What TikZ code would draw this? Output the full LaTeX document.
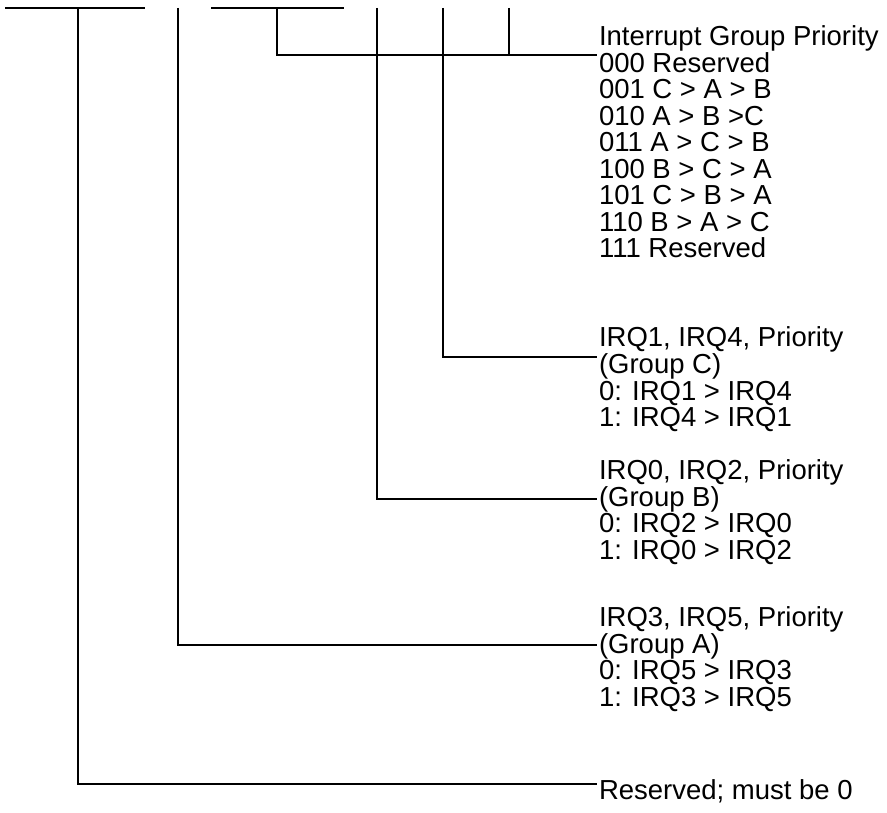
\documentclass[tikz,border=0pt]{standalone}
\usepackage{fontspec}
\setmainfont{Liberation Sans}
\begin{document}
\begin{tikzpicture}[x=1pt,y=-1pt,
  lbl/.style={anchor=base west,inner sep=0pt,outer sep=0pt,font=\fontsize{27.5}{27}\selectfont},
  conn/.style={line width=1.3pt},
  heavy/.style={line width=2.4pt}]
\useasboundingbox (0,0) rectangle (887,813);
% top fragments
\coordinate (h1a) at (5,8);   \coordinate (h1b) at (145,8);
\coordinate (h2a) at (211,8); \coordinate (h2b) at (344,8);
\draw[conn] (h1a) -- (h1b);
\draw[conn] (h2a) -- (h2b);
% tops of the field lines
\coordinate (sR) at (78,8);
\coordinate (sA) at (178,8);
\coordinate (sG) at (277,8);
\coordinate (sB) at (377,8);
\coordinate (sC) at (443,8);
\coordinate (sH) at (509,8);
% ends
\coordinate (eG) at (597,55);
\coordinate (jH) at (509,55);
\coordinate (eC) at (597,357);
\coordinate (eB) at (597,499);
\coordinate (eA) at (597,645);
\coordinate (eR) at (597,784);
% texts
\def\lx{599}
\node[lbl] (g0) at (\lx,46) {Interrupt Group Priority};
\node[lbl] (g1) at (\lx,72.5) {000 Reserved};
\node[lbl] (g2) at (\lx,99) {001 C > A > B};
\node[lbl] (g3) at (\lx,125.5) {010 A > B >C};
\node[lbl] (g4) at (\lx,152) {011 A > C > B};
\node[lbl] (g5) at (\lx,178.5) {100 B > C > A};
\node[lbl] (g6) at (\lx,205) {101 C > B > A};
\node[lbl] (g7) at (\lx,231.5) {110 B > A > C};
\node[lbl] (g8) at (\lx,258) {111 Reserved};
\node[lbl] (c0) at (\lx,347) {IRQ1, IRQ4, Priority};
\node[lbl] (c1) at (\lx,373.5) {(Group C)};
\node[lbl] (c2) at (\lx,400) {0: IRQ1 > IRQ4};
\node[lbl] (c3) at (\lx,426.5) {1: IRQ4 > IRQ1};
\node[lbl] (b0) at (\lx,479.5) {IRQ0, IRQ2, Priority};
\node[lbl] (b1) at (\lx,506) {(Group B)};
\node[lbl] (b2) at (\lx,532.5) {0: IRQ2 > IRQ0};
\node[lbl] (b3) at (\lx,559) {1: IRQ0 > IRQ2};
\node[lbl] (a0) at (\lx,626.5) {IRQ3, IRQ5, Priority};
\node[lbl] (a1) at (\lx,653) {(Group A)};
\node[lbl] (a2) at (\lx,679.5) {0: IRQ5 > IRQ3};
\node[lbl] (a3) at (\lx,706) {1: IRQ3 > IRQ5};
\node[lbl] (r0) at (\lx,799) {Reserved; must be 0};
% connectors
\draw[conn] (sG) |- (eG);
\draw[heavy] (sH) -- (jH);
\draw[conn] (sC) |- (eC);
\draw[conn] (sB) |- (eB);
\draw[conn] (sA) |- (eA);
\draw[conn] (sR) |- (eR);
\end{tikzpicture}
\end{document}
